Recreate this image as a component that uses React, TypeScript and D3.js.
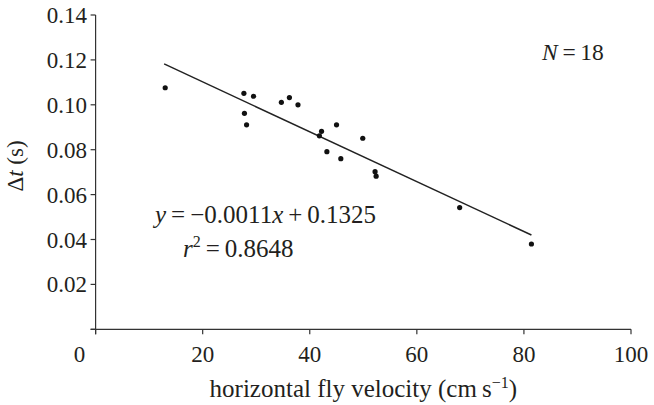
import React from 'react';
import * as d3 from 'd3';

// horizontal fly velocity (cm/s) and Δt (s)
const velocity = [13.0, 27.7, 29.5, 27.8, 28.2, 34.7, 36.2, 37.8, 42.2, 41.8, 45.0, 43.2, 45.8, 49.9, 52.2, 52.4, 68.0, 81.4];
const deltaT = [0.1076, 0.1051, 0.1038, 0.0962, 0.0911, 0.1011, 0.1032, 0.1000, 0.0882, 0.0862, 0.0911, 0.0791, 0.0760, 0.0851, 0.0702, 0.0682, 0.0542, 0.0380];

// regression line end points
const fitX = [12.8, 81.4];
const fitY = [0.1182, 0.0420];

const xTicks = [0, 20, 40, 60, 80, 100];
const yTicks = [0, 0.02, 0.04, 0.06, 0.08, 0.10, 0.12, 0.14];

const W = 654;
const H = 405;
const ink = '#231f20';
const font = '"Liberation Serif", "Times New Roman", serif';

export default function App() {
  const x = d3.scaleLinear().domain([0, 100]).range([95.6, 631]);
  const y = d3.scaleLinear().domain([0, 0.14]).range([329.3, 15]);

  const line = d3.line<[number, number]>()
    .x(d => x(d[0]))
    .y(d => y(d[1]));
  const fit: [number, number][] = fitX.map((v, i) => [v, fitY[i]]);

  return (
    <svg
      width={W}
      height={H}
      style={{ position: 'absolute', left: 0, top: 0, background: '#fff' }}
      fontFamily={font}
      fill={ink}
    >
      {/* y axis */}
      <line x1={x(0)} x2={x(0)} y1={y(0.14)} y2={y(0) + 5} stroke="#333" strokeWidth={1.2} />
      {yTicks.map(t => (
        <g key={t}>
          <line x1={x(0) - 5} x2={x(0)} y1={y(t)} y2={y(t)} stroke="#333" strokeWidth={1.2} />
          {t > 0 && (
            <text x={87} y={y(t)} dy="0.35em" textAnchor="end" fontSize={23}>
              {t.toFixed(2)}
            </text>
          )}
        </g>
      ))}

      {/* x axis */}
      <line x1={x(0) - 5} x2={x(100)} y1={y(0)} y2={y(0)} stroke="#333" strokeWidth={1.2} />
      {xTicks.map(t => (
        <g key={t}>
          <line x1={x(t)} x2={x(t)} y1={y(0)} y2={y(0) + 5} stroke="#333" strokeWidth={1.2} />
          <text x={x(t) + (t === 0 ? -16 : 0)} y={361.5} textAnchor="middle" fontSize={23}>
            {t}
          </text>
        </g>
      ))}

      {/* axis titles */}
      <text x={(x(0) + x(100)) / 2} y={397} textAnchor="middle" fontSize={25}>
        horizontal fly velocity (cm{'\u2009'}s
        <tspan dy={-9} fontSize={16}>{'\u22121'}</tspan>
        <tspan dy={9}>)</tspan>
      </text>
      <text transform={`translate(23,166) rotate(-90)`} textAnchor="middle" fontSize={23}>
        Δ<tspan fontStyle="italic">t</tspan> (s)
      </text>

      {/* fit line */}
      <path d={line(fit) ?? ''} fill="none" stroke="#222" strokeWidth={1.5} />

      {/* points */}
      {velocity.map((v, i) => (
        <circle key={i} cx={x(v)} cy={y(deltaT[i])} r={2.6} fill="#111" />
      ))}

      {/* annotations */}
      <text x={542} y={60} fontSize={23.5}>
        <tspan fontStyle="italic">N</tspan>{'\u2009=\u200918'}
      </text>
      <text x={155} y={223} fontSize={25}>
        <tspan fontStyle="italic">y</tspan>
        {'\u2009=\u2009\u22120.0011'}
        <tspan fontStyle="italic">x</tspan>
        {'\u2009+\u20090.1325'}
      </text>
      <text x={183} y={257} fontSize={25}>
        <tspan fontStyle="italic">r</tspan>
        <tspan dy={-10} fontSize={16}>2</tspan>
        <tspan dy={10}>{'\u2009=\u20090.8648'}</tspan>
      </text>
    </svg>
  );
}
